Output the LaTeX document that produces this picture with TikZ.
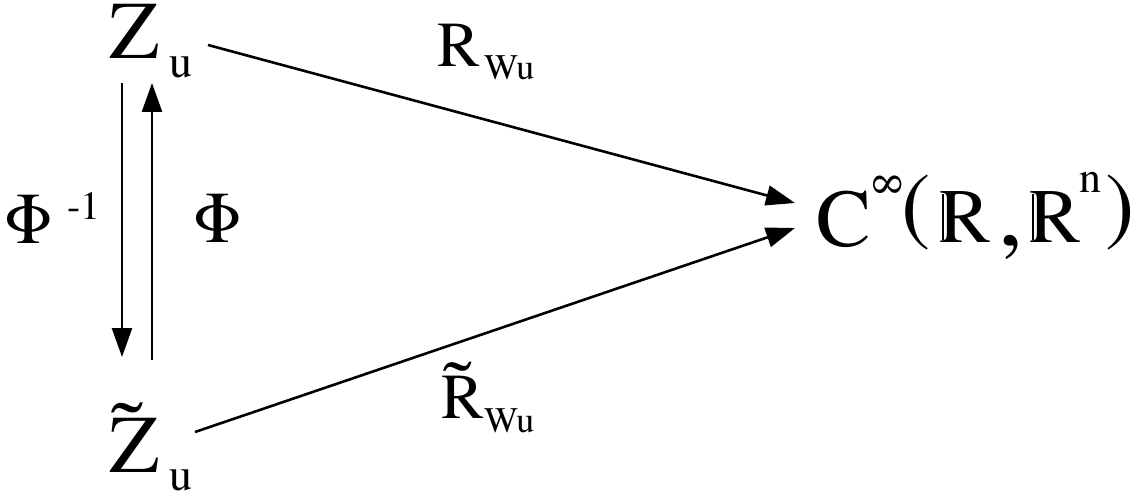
\documentclass[tikz,border=0pt]{standalone}
\usepackage{fontspec}
\IfFontExistsTF{texgyretermes-regular.otf}
  {\setmainfont{texgyretermes-regular.otf}\newfontfamily\tnr{texgyretermes-regular.otf}}
  {\setmainfont{Liberation Serif}\newfontfamily\tnr{Liberation Serif}}
\usetikzlibrary{arrows.meta}
\newcommand{\myfs}[1]{\fontsize{#1}{#1}\selectfont\tnr}
\tikzset{
  lbl/.style={inner sep=0pt, outer sep=0pt, anchor=base west, font=\tnr},
  arr/.style={line width=2.6pt, -{Triangle[length=29pt,width=20pt]}},
  bbline/.style={line width=1.3pt},
}
\begin{document}
\begin{tikzpicture}[x=1pt,y=-1pt]
\useasboundingbox (0,0) rectangle (1135,492);
% Z_u
\node[lbl] (Z) at (109,59) {\myfs{82}Z};
\node[lbl] (Zs) at (169,78) {\myfs{46}u};
% tilde Z_u
\node[lbl] (Zt) at (109,472) {\myfs{82}Z};
\node[lbl] (Zta) at (111,464) {\myfs{96}\symbol{"02DC}};
\node[lbl] (Zts) at (169,490) {\myfs{46}u};
% Phi labels
\node[lbl] (P1) at (5,243) {\myfs{73}\symbol{"03A6}};
\node[lbl] (P1s) at (67,219) {\myfs{40}-1};
\node[lbl] (P2) at (193,242) {\myfs{73}\symbol{"03A6}};
% R_Wu
\node[lbl] (R1) at (437,67) {\myfs{64}R};
\node[lbl] (R1s) at (484,80) {\myfs{36}Wu};
\node[lbl] (R2) at (441,418) {\myfs{64}R};
\node[lbl] (R2a) at (443,417) {\myfs{86}\symbol{"02DC}};
\node[lbl] (R2s) at (484,432) {\myfs{36}Wu};
% C^infty(R,R^n)
\node[lbl] (C) at (816,246) {\myfs{82}C};
\node[lbl] (Cinf) at (868,198) {\myfs{46}\symbol{"221E}};
\node[lbl] (Lp) at (901,234) {\myfs{88}(};
\node[lbl] (B1) at (939,242) {\myfs{77}R};
\draw[bbline] (943,194) -- (943,240);
\node[lbl] (Cm) at (998,245) {\myfs{100},};
\node[lbl] (B2) at (1029,242) {\myfs{77}R};
\draw[bbline] (1033,194) -- (1033,240);
\node[lbl] (Bn) at (1079,193) {\myfs{44}n};
\node[lbl] (Rp) at (1105,234) {\myfs{88})};
% connector end points
\coordinate (zuE) at (208,45);
\coordinate (ztE) at (195,432);
\coordinate (cT) at (795,203);
\coordinate (cB) at (795,228);
\coordinate (dTop) at (122,83);
\coordinate (dBot) at (122,357);
\coordinate (uBot) at (152,360);
\coordinate (uTop) at (152,83);
\draw[arr] (zuE) -- (cT);
\draw[arr] (ztE) -- (cB);
\draw[arr] (dTop) -- (dBot);
\draw[arr] (uBot) -- (uTop);
\end{tikzpicture}
\end{document}
